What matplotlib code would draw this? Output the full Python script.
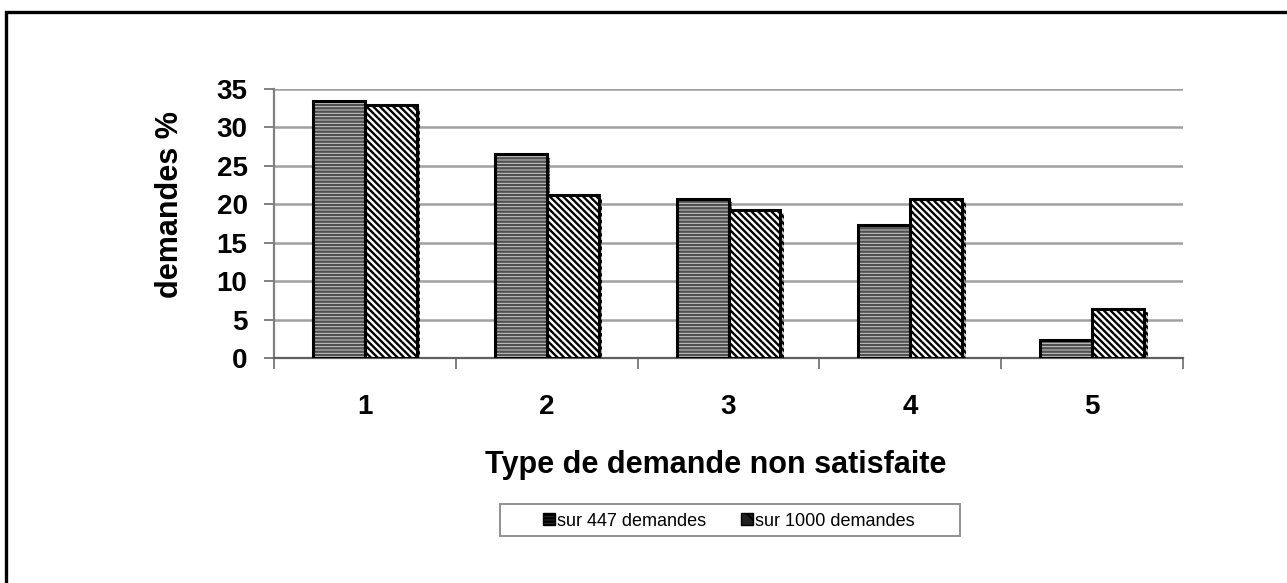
import numpy as np
import matplotlib.pyplot as plt
from matplotlib.patches import Rectangle
import matplotlib.patheffects as pe

plt.rcParams['font.family'] = ['Liberation Sans', 'DejaVu Sans']
plt.rcParams['hatch.linewidth'] = 1.7

# data
categories = ["1", "2", "3", "4", "5"]
sur_447 = [33.4, 26.5, 20.7, 17.3, 2.3]
sur_1000 = [32.9, 21.2, 19.3, 20.7, 6.4]
series_labels = ["sur 447 demandes", "sur 1000 demandes"]

W, H = 1287, 583
fig = plt.figure(figsize=(W / 100, H / 100), dpi=100)
ax = fig.add_axes([274 / W, 1 - 358 / H, (1183 - 274) / W, (358 - 89) / H])

# frame of the picture (right and bottom edges are cut off in the source)
fig.patches.append(Rectangle((6 / W, -0.05), 1.2, 1 - 12 / H + 0.05,
                             transform=fig.transFigure, fill=False,
                             edgecolor="black", linewidth=2.4))

x = np.arange(len(categories))
w = 0.286
shadow = [pe.SimplePatchShadow(offset=(2.5, -2.5), alpha=0.3), pe.Normal()]

# hatched fills first, then black outlines on top
f1 = ax.bar(x - w / 2, sur_447, w, color="#cccccc", edgecolor="#505050",
            hatch="-----", linewidth=0, zorder=3)
f2 = ax.bar(x + w / 2, sur_1000, w, color="white", edgecolor="black",
            hatch="\\\\\\\\\\", linewidth=0, zorder=3)
for b in list(f1) + list(f2):
    b.set_path_effects(shadow)
ax.bar(x - w / 2, sur_447, w, fill=False, edgecolor="black", linewidth=2.2, zorder=4)
ax.bar(x + w / 2, sur_1000, w, fill=False, edgecolor="black", linewidth=2.2, zorder=4)

ax.set_xlim(-0.5, len(categories) - 0.5)
ax.set_ylim(0, 35)
ax.set_yticks(np.arange(0, 36, 5))
ax.yaxis.grid(True, color="#a0a0a0", linewidth=1.8, zorder=0)
ax.set_axisbelow(True)

ax.set_xticks(x)
ax.set_xticklabels(categories, fontsize=20, fontweight="bold")
ax.set_xticks(np.arange(-0.5, len(categories), 1), minor=True)
ax.tick_params(axis="x", which="major", length=0, pad=26)
ax.tick_params(axis="x", which="minor", length=8, color="#808080", width=1.4)
ax.tick_params(axis="y", length=7, color="#808080", width=1.4, pad=12)
for lbl in ax.get_yticklabels():
    lbl.set_fontsize(20)
    lbl.set_fontweight("bold")

for s in ["top", "right"]:
    ax.spines[s].set_visible(False)
ax.spines["left"].set_color("#808080")
ax.spines["left"].set_linewidth(1.6)
ax.spines["bottom"].set_color("#606060")
ax.spines["bottom"].set_linewidth(1.6)

ax.set_ylabel("demandes %", fontsize=22, fontweight="bold")
ax.yaxis.set_label_coords((185 - 274) / 909, (358 - 205) / 269)
ax.set_xlabel("Type de demande non satisfaite", fontsize=22, fontweight="bold")
ax.xaxis.set_label_coords((716 - 274) / 909, (358 - 450) / 269)

# legend: entries without frame, box drawn separately (wide side padding)
handles = [Rectangle((0, 0), 1, 1, facecolor="#303030", edgecolor="black",
                     hatch="-----", linewidth=1),
           Rectangle((0, 0), 1, 1, facecolor="#202020", edgecolor="black",
                     hatch="\\\\", linewidth=1)]
fig.legend(handles=handles, labels=series_labels, loc="center",
           bbox_to_anchor=(729 / W, 1 - 521 / H), ncol=2,
           fontsize=13, frameon=False,
           handlelength=0.65, handleheight=0.65, handletextpad=0.15,
           columnspacing=1.9, borderpad=0, borderaxespad=0)
fig.patches.append(Rectangle((500 / W, 1 - 536 / H), 460 / W, 32 / H,
                             transform=fig.transFigure, fill=False,
                             edgecolor="#909090", linewidth=1.4))

fig.savefig("out.png", dpi=100)
